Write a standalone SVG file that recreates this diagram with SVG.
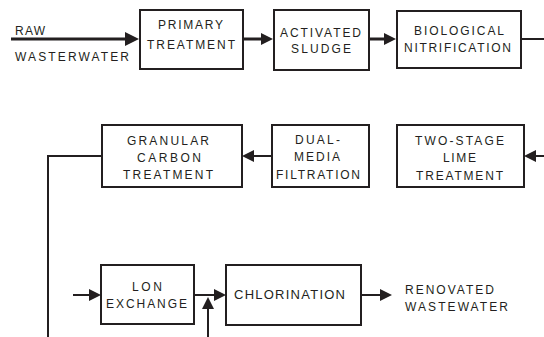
<svg xmlns="http://www.w3.org/2000/svg" width="544" height="337" viewBox="0 0 544 337">
<style>
.box{fill:#fff;stroke:#231f20;stroke-width:2}
.t{font-family:"Liberation Sans",Arial,sans-serif;font-size:12px;fill:#231f20}
.ln{fill:none;stroke:#231f20;stroke-width:2}
.thick{stroke-width:3}
</style>
<defs>
<marker id="ah" markerUnits="userSpaceOnUse" markerWidth="14" markerHeight="14" refX="6" refY="6" orient="auto" viewBox="0 0 14 14">
<path d="M0,0 L12,6 L0,12 z" fill="#231f20"/>
</marker>
<marker id="ahb" markerUnits="userSpaceOnUse" markerWidth="16" markerHeight="16" refX="7" refY="7" orient="auto" viewBox="0 0 16 16">
<path d="M0,0 L14,7 L0,14 z" fill="#231f20"/>
</marker>
</defs>
<g id="raw-label">
<text class="t" x="15" y="35" textLength="30" lengthAdjust="spacing">RAW</text>
<text class="t" x="15" y="61" textLength="114" lengthAdjust="spacing">WASTERWATER</text>
</g>
<g id="primary">
<rect class="box" x="140" y="10" width="103" height="59"/>
<text class="t" x="158" y="29" textLength="65" lengthAdjust="spacing">PRIMARY</text>
<text class="t" x="147" y="49" textLength="88" lengthAdjust="spacing">TREATMENT</text>
</g>
<g id="activated">
<rect class="box" x="274" y="10" width="95" height="60"/>
<text class="t" x="280" y="37" textLength="81" lengthAdjust="spacing">ACTIVATED</text>
<text class="t" x="291" y="53" textLength="60" lengthAdjust="spacing">SLUDGE</text>
</g>
<g id="biological">
<rect class="box" x="397" y="11" width="124" height="57"/>
<text class="t" x="414" y="35" textLength="90" lengthAdjust="spacing">BIOLOGICAL</text>
<text class="t" x="404" y="52" textLength="107" lengthAdjust="spacing">NITRIFICATION</text>
</g>
<g id="granular">
<rect class="box" x="102" y="125" width="140" height="62"/>
<text class="t" x="127" y="145" textLength="82" lengthAdjust="spacing">GRANULAR</text>
<text class="t" x="137" y="162" textLength="64" lengthAdjust="spacing">CARBON</text>
<text class="t" x="123" y="179" textLength="90" lengthAdjust="spacing">TREATMENT</text>
</g>
<g id="dual">
<rect class="box" x="272" y="125" width="97" height="62"/>
<text class="t" x="295" y="144" textLength="45" lengthAdjust="spacing">DUAL-</text>
<text class="t" x="294" y="161" textLength="46" lengthAdjust="spacing">MEDIA</text>
<text class="t" x="276" y="179" textLength="84" lengthAdjust="spacing">FILTRATION</text>
</g>
<g id="lime">
<rect class="box" x="397" y="125" width="127" height="62"/>
<text class="t" x="415" y="145" textLength="89" lengthAdjust="spacing">TWO-STAGE</text>
<text class="t" x="443" y="162" textLength="33" lengthAdjust="spacing">LIME</text>
<text class="t" x="416" y="180" textLength="87" lengthAdjust="spacing">TREATMENT</text>
</g>
<g id="lon">
<rect class="box" x="101" y="265" width="93" height="59"/>
<text class="t" x="132" y="291" textLength="30" lengthAdjust="spacing">LON</text>
<text class="t" x="106" y="308" textLength="81" lengthAdjust="spacing">EXCHANGE</text>
</g>
<g id="chlorination">
<rect class="box" x="226" y="265" width="135" height="60"/>
<text class="t" x="234" y="299" textLength="111" lengthAdjust="spacing" style="font-size:13px">CHLORINATION</text>
</g>
<g id="renovated-label">
<text class="t" x="405" y="294" textLength="89" lengthAdjust="spacing">RENOVATED</text>
<text class="t" x="405" y="311" textLength="103" lengthAdjust="spacing">WASTEWATER</text>
</g>
<g id="connectors">
<line class="ln thick" x1="11" y1="39" x2="132" y2="39" marker-end="url(#ahb)"/>
<line class="ln thick" x1="243" y1="39" x2="267" y2="39" marker-end="url(#ah)"/>
<line class="ln thick" x1="369" y1="39" x2="390" y2="39" marker-end="url(#ah)"/>
<line class="ln" x1="521" y1="39" x2="544" y2="39"/>
<line class="ln" x1="544" y1="156" x2="530" y2="156" marker-end="url(#ah)"/>
<line class="ln" x1="272" y1="156" x2="248" y2="156" marker-end="url(#ah)"/>
<polyline class="ln" points="102,156 48,156 48,337"/>
<line class="ln" x1="73" y1="295" x2="95" y2="295" marker-end="url(#ah)"/>
<line class="ln" x1="194" y1="295" x2="220" y2="295" marker-end="url(#ah)"/>
<line class="ln" x1="208" y1="337" x2="208" y2="303" marker-end="url(#ah)"/>
<line class="ln" x1="361" y1="295" x2="386" y2="295" marker-end="url(#ah)"/>
</g>
</svg>
